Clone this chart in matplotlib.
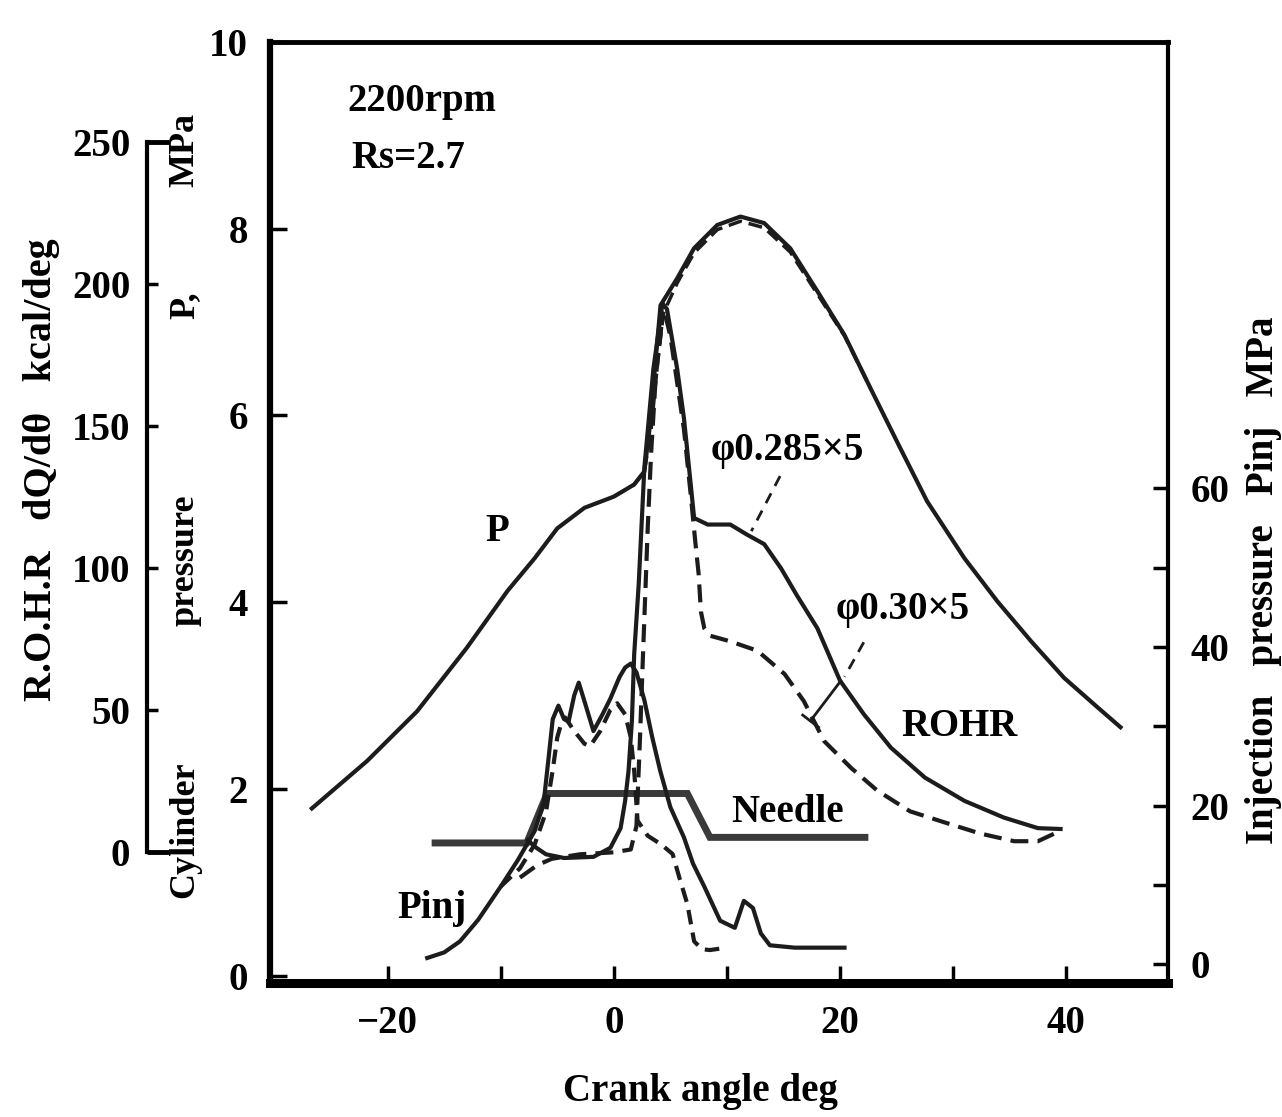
import matplotlib
matplotlib.use("Agg")
import matplotlib.pyplot as plt

plt.rcParams['font.family'] = ['Liberation Serif', 'DejaVu Serif']
plt.rcParams['font.weight'] = 'bold'

# ---------------- data ----------------
# cylinder pressure, MPa
p_solid_x = [-26.7, -21.8, -17.4, -13.0, -9.4, -7.0, -5.0, -2.6, 0.0, 1.8, 2.7, 3.2, 3.7,
             4.13, 5.61, 7.09, 9.15, 11.2, 13.3, 15.6, 18.0, 20.4, 22.7, 25.2, 27.7, 31.0,
             33.9, 36.9, 39.8, 42.8, 44.8]
p_solid_y = [1.79, 2.30, 2.83, 3.51, 4.12, 4.47, 4.79, 5.01, 5.13, 5.26, 5.40, 5.9, 6.6,
             7.18, 7.47, 7.79, 8.04, 8.13, 8.06, 7.79, 7.33, 6.86, 6.29, 5.68, 5.08, 4.47,
             4.01, 3.58, 3.19, 2.87, 2.66]
p_dash_x = [0.0, 1.8, 2.7, 3.3, 3.9, 4.4, 5.61, 7.09, 9.15, 11.2, 13.3, 15.6, 18.0, 20.4, 22.7]
p_dash_y = [5.13, 5.26, 5.40, 5.85, 6.6, 7.1, 7.42, 7.74, 7.99, 8.08, 8.01, 7.75, 7.30, 6.85, 6.29]

# rate of heat release, kcal/deg
rohr_solid_x = [-7.6, -7.0, -6.0, -4.4, -1.8, -0.3, 0.6, 1.0, 1.3, 1.6, 1.8, 2.2, 2.7, 3.5,
                4.3, 4.7, 5.6, 6.2, 6.8, 7.1, 8.3, 10.3, 11.8, 13.3, 14.8, 16.2, 18.0, 20.0,
                22.1, 24.5, 27.5, 31.0, 34.5, 37.5, 39.5]
rohr_solid_y = [4.3, 2.0, -0.7, -2.0, -1.6, 1.6, 8.5, 18.1, 28.6, 46.3, 69.6, 94.3, 135.3,
                170.1, 193.1, 191.1, 170.1, 152.7, 129.4, 117.6, 115.3, 115.3, 111.7, 108.4,
                99.8, 90.3, 78.8, 60.4, 48.6, 36.8, 26.3, 18.1, 12.2, 8.5, 8.2]
rohr_dash_x = [-8.3, -6.8, -5.5, -3.0, 0.0, 1.5, 2.0, 2.3, 2.6, 3.0, 3.3, 3.7, 4.2, 4.6, 5.0,
               5.6, 6.2, 6.8, 7.2, 7.5, 7.7, 8.0, 8.5, 10.3, 12.7, 15.1, 16.8, 18.6, 21.0,
               23.3, 26.2, 29.5, 32.4, 35.4, 37.5, 39.5]
rohr_dash_y = [-8.9, -4.6, -2.3, -0.7, 0.0, 1.0, 9.2, 38.8, 71.6, 114.3, 140.6, 166.8, 184.9,
               188.2, 181.6, 165.2, 148.8, 125.8, 109.4, 97.9, 84.7, 78.8, 76.2, 74.2, 70.9,
               62.7, 53.2, 39.1, 29.6, 21.7, 14.4, 10.2, 6.6, 3.9, 3.9, 7.6]

# injection pressure, MPa
pinj_solid_x = [-16.5, -15.0, -13.6, -12.0, -10.0, -8.5, -7.0, -6.2, -5.8, -5.4, -4.9, -4.4,
                -4.0, -3.5, -3.1, -2.5, -1.8, -1.0, -0.3, 0.5, 1.0, 1.5, 2.0, 2.7, 3.4, 4.1,
                5.0, 6.2, 7.0, 8.0, 9.4, 10.7, 11.5, 12.3, 13.0, 13.8, 16.0, 20.4]
pinj_solid_y = [0.8, 1.5, 2.9, 5.6, 9.8, 13.1, 16.8, 20.4, 25.6, 30.9, 32.6, 30.9, 30.6, 33.9,
                35.5, 32.7, 29.4, 31.5, 33.5, 36.2, 37.4, 37.9, 36.8, 33.3, 28.6, 24.4, 19.8,
                16.0, 12.7, 9.8, 5.5, 4.6, 8.0, 7.1, 3.9, 2.4, 2.1, 2.1]
pinj_dash_x = [-10.0, -8.3, -7.0, -6.0, -5.4, -5.0, -4.6, -4.3, -3.5, -2.6, -2.1, -1.2, -0.3,
               0.3, 1.0, 1.5, 1.8, 2.1, 3.0, 4.2, 5.2, 5.8, 6.5, 7.1, 7.8, 8.5, 10.0]
pinj_dash_y = [9.8, 12.1, 15.1, 19.2, 24.5, 28.6, 30.6, 31.1, 29.4, 27.8, 27.5, 29.4, 32.1,
               32.9, 31.5, 28.6, 24.4, 18.1, 16.2, 15.1, 13.9, 10.9, 7.6, 2.9, 1.9, 1.8, 2.1]

# needle lift trace (drawn on the pressure scale, no own axis)
needle_x = [-15.8, -7.7, -5.9, 6.5, 8.5, 22.2]
needle_y = [1.42, 1.42, 1.95, 1.95, 1.48, 1.48]

# axis ranges: the three vertical scales share one frame
P_LIM = (-0.08, 10.0)
ROHR_ZERO, ROHR_PER_MPA = 1.32, 32.84     # ROHR = (P - 1.32) * 32.84
PINJ_ZERO, PINJ_STEP = 0.12, 0.085        # P = 0.12 + 0.085 * Pinj

rohr_lim = tuple((p - ROHR_ZERO) * ROHR_PER_MPA for p in P_LIM)
pinj_lim = tuple((p - PINJ_ZERO) / PINJ_STEP for p in P_LIM)

ink = '#1c1c1c'
fs = 28

fig = plt.figure(figsize=(12.82, 11.17), dpi=100)
ax = fig.add_axes([270 / 1282, 1 - 983 / 1117, 898 / 1282, 941 / 1117])
ax.set_xlim(-30.4, 49.0)
ax.set_ylim(*P_LIM)

# --- pressure curves
ax.plot(p_solid_x, p_solid_y, color=ink, lw=3)
ax.plot(p_dash_x, p_dash_y, color=ink, lw=2.5, dashes=(4, 2))
ax.plot(needle_x, needle_y, color='#3a3a3a', lw=5, solid_joinstyle='miter')

# --- ROHR on its own scale (outer left spine)
axq = ax.twinx()
axq.set_ylim(*rohr_lim)
axq.plot(rohr_solid_x, rohr_solid_y, color=ink, lw=3)
axq.plot(rohr_dash_x, rohr_dash_y, color=ink, lw=3, dashes=(4.3, 2.2))
for s in ['right', 'top', 'bottom']:
    axq.spines[s].set_visible(False)
axq.spines['left'].set_visible(True)
axq.spines['left'].set_position(('axes', -0.137))
axq.spines['left'].set_bounds(0, 250)
axq.spines['left'].set_linewidth(3)
axq.yaxis.set_ticks_position('left')
axq.set_yticks([0, 50, 100, 150, 200, 250])
axq.tick_params(axis='y', direction='in', length=8, width=2.5, labelsize=fs, pad=12)
yt = axq.yaxis.get_major_ticks()
for t in (yt[0], yt[-1]):
    t.tick1line.set_markersize(16)
    t.tick1line.set_markeredgewidth(3.5)

# --- injection pressure (right)
axr = ax.twinx()
axr.set_ylim(*pinj_lim)
axr.plot(pinj_solid_x, pinj_solid_y, color=ink, lw=3)
axr.plot(pinj_dash_x, pinj_dash_y, color=ink, lw=3, dashes=(3.5, 2))
axr.set_yticks([0, 20, 40, 60])
axr.set_yticks([10, 30, 50], minor=True)
axr.tick_params(axis='y', which='both', direction='in', length=11, width=2.5,
                labelsize=fs, pad=16)
for s in ['left', 'top', 'bottom']:
    axr.spines[s].set_visible(False)
axr.spines['right'].set_linewidth(3)

# --- main frame and ticks
ax.set_xticks([-20, 0, 20, 40])
ax.set_xticks([-10, 10, 30], minor=True)
ax.set_yticks([0, 2, 4, 6, 8, 10])
ax.tick_params(axis='both', which='both', direction='in', length=12, width=2.5,
               labelsize=fs)
ax.tick_params(axis='x', pad=16)
ax.tick_params(axis='y', pad=16)
ax.set_xticklabels(['\u221220', '0', '20', '40'])
ax.spines['left'].set_linewidth(4.5)
ax.spines['bottom'].set_linewidth(6.5)
ax.spines['top'].set_linewidth(3.5)
ax.spines['right'].set_visible(False)

# --- annotations inside the frame
ax.text(-23.6, 9.36, '2200rpm', fontsize=fs, va='center', ha='left')
ax.text(-23.2, 8.75, 'Rs=2.7', fontsize=fs, va='center', ha='left')
ax.text(-10.3, 4.76, 'P', fontsize=fs, va='center', ha='center')
ax.text(-16.1, 0.72, 'Pinj', fontsize=fs, va='center', ha='center')
ax.text(15.4, 1.75, 'Needle', fontsize=fs, va='center', ha='center')
ax.text(30.6, 2.67, 'ROHR', fontsize=fs, va='center', ha='center')
ax.text(15.3, 5.62, '\u03c60.285\u00d75', fontsize=fs, va='center', ha='center')
ax.text(25.5, 3.92, '\u03c60.30\u00d75', fontsize=fs, va='center', ha='center')

lead_285_x, lead_285_y = [14.7, 12.16], [5.35, 4.76]
lead_30_x, lead_30_y = [22.1, 20.4], [3.57, 3.2]
link_x, link_y = [20.06, 17.4], [3.155, 2.73]
bar_x, bar_y = [16.7, 18.1], [2.79, 2.66]
ax.plot(lead_285_x, lead_285_y, color=ink, lw=2, dashes=(4, 3))
ax.plot(lead_30_x, lead_30_y, color=ink, lw=2, dashes=(4, 3))
ax.plot(link_x, link_y, color=ink, lw=2)
ax.plot(bar_x, bar_y, color=ink, lw=2)

# --- axis titles
fig.text(700 / 1282, 1 - 1092 / 1117, 'Crank angle deg', fontsize=fs,
         ha='center', va='center')
for word, yy in [('Cylinder', 830), ('pressure', 560), ('P,', 305), ('MPa', 150)]:
    fig.text(185 / 1282, 1 - yy / 1117, word, fontsize=26, rotation=90,
             ha='center', va='center')
fig.text(42 / 1282, 1 - 470 / 1117, 'R.O.H.R   dQ/d\u03b8   kcal/deg', fontsize=29,
         rotation=90, ha='center', va='center')
fig.text(1264 / 1282, 1 - 580 / 1117, 'Injection   pressure   Pinj   MPa', fontsize=28,
         rotation=90, ha='center', va='center')

fig.savefig('out.png', dpi=100)
